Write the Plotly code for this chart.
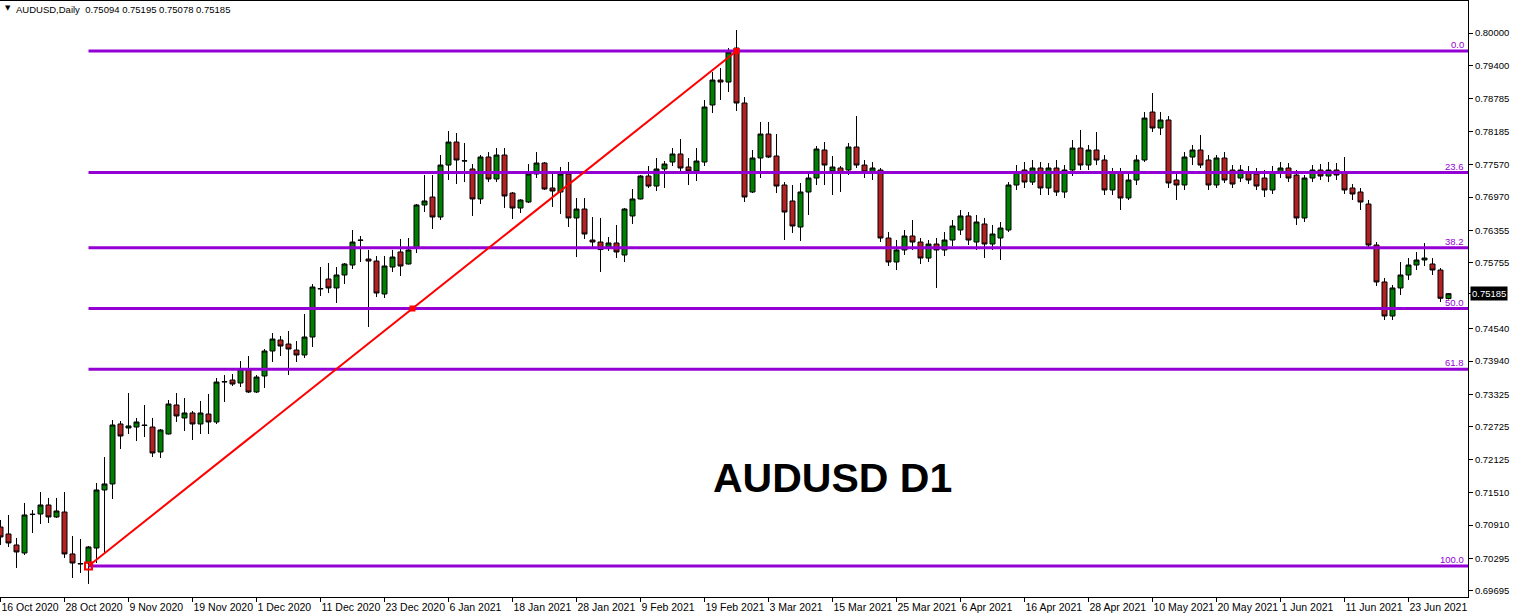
import plotly.graph_objects as go

# ---------------- data ----------------
symbol_title = "AUDUSD,Daily  0.75094 0.75195 0.75078 0.75185"
chart_label = "AUDUSD D1"

date_labels = ["16 Oct 2020", "28 Oct 2020", "9 Nov 2020", "19 Nov 2020", "1 Dec 2020",
               "11 Dec 2020", "23 Dec 2020", "6 Jan 2021", "18 Jan 2021", "28 Jan 2021",
               "9 Feb 2021", "19 Feb 2021", "3 Mar 2021", "15 Mar 2021", "25 Mar 2021",
               "6 Apr 2021", "16 Apr 2021", "28 Apr 2021", "10 May 2021", "20 May 2021",
               "1 Jun 2021", "11 Jun 2021", "23 Jun 2021"]
date_label_bars = [0, 8, 16, 24, 32, 40, 48, 56, 64, 72, 80, 88, 96, 104, 112,
                   120, 128, 136, 144, 152, 160, 168, 176]

price_ticks = [0.80000, 0.79400, 0.78785, 0.78185, 0.77570, 0.76970, 0.76355, 0.75755,
               0.74540, 0.73940, 0.73325, 0.72725, 0.72125, 0.71510, 0.70910, 0.70295, 0.69695]
last_price = 0.75185

# OHLC per daily bar
ohlc = [
    (0.70875, 0.71005, 0.70543, 0.70691), (0.70746, 0.71097, 0.70506, 0.70580),
    (0.70543, 0.70672, 0.70118, 0.70414), (0.70395, 0.71319, 0.70358, 0.71097),
    (0.71105, 0.71189, 0.70764, 0.71110), (0.71115, 0.71522, 0.70931, 0.71282),
    (0.71282, 0.71411, 0.70949, 0.71060), (0.71060, 0.71411, 0.71042, 0.71171),
    (0.71152, 0.71522, 0.70303, 0.70377), (0.70377, 0.70709, 0.69933, 0.70210),
    (0.70191, 0.70654, 0.70026, 0.70200), (0.70210, 0.70524, 0.69823, 0.70506),
    (0.70487, 0.71688, 0.70210, 0.71559), (0.71559, 0.72168, 0.70395, 0.71670),
    (0.71670, 0.72852, 0.71392, 0.72759), (0.72778, 0.72833, 0.72316, 0.72556),
    (0.72704, 0.73350, 0.72593, 0.72741), (0.72722, 0.72889, 0.72463, 0.72815),
    (0.72759, 0.73129, 0.72537, 0.72750), (0.72722, 0.72889, 0.72168, 0.72242),
    (0.72261, 0.72685, 0.72150, 0.72667), (0.72593, 0.73221, 0.72585, 0.73147),
    (0.73129, 0.73350, 0.72815, 0.72926), (0.72889, 0.73258, 0.72648, 0.72981),
    (0.72981, 0.73018, 0.72482, 0.72778), (0.72778, 0.73203, 0.72593, 0.72981),
    (0.72962, 0.73332, 0.72593, 0.72815), (0.72815, 0.73627, 0.72778, 0.73553),
    (0.73553, 0.73682, 0.73184, 0.73560), (0.73590, 0.73701, 0.73479, 0.73516),
    (0.73535, 0.73941, 0.73461, 0.73794), (0.73775, 0.74034, 0.73350, 0.73369),
    (0.73369, 0.73682, 0.73350, 0.73645), (0.73664, 0.74163, 0.73442, 0.74126),
    (0.74126, 0.74458, 0.73923, 0.74347), (0.74329, 0.74403, 0.74034, 0.74218),
    (0.74255, 0.74495, 0.73682, 0.74163), (0.74144, 0.74310, 0.73923, 0.74052),
    (0.74052, 0.74809, 0.73997, 0.74384), (0.74384, 0.75363, 0.74200, 0.75308),
    (0.75271, 0.75677, 0.75142, 0.75280), (0.75456, 0.75751, 0.75197, 0.75290),
    (0.75290, 0.75677, 0.75013, 0.75530), (0.75530, 0.75751, 0.75363, 0.75733),
    (0.75714, 0.76361, 0.75640, 0.76139), (0.76176, 0.76250, 0.75770, 0.76170),
    (0.75825, 0.75992, 0.74569, 0.75788), (0.75788, 0.75880, 0.75123, 0.75197),
    (0.75179, 0.75880, 0.75105, 0.75696), (0.75677, 0.75992, 0.75585, 0.75862),
    (0.75955, 0.76195, 0.75511, 0.75696), (0.75733, 0.76213, 0.75725, 0.75992),
    (0.76029, 0.76841, 0.75936, 0.76823), (0.76823, 0.77377, 0.76693, 0.76897),
    (0.76970, 0.77377, 0.76380, 0.76601), (0.76601, 0.77746, 0.76546, 0.77561),
    (0.77561, 0.78189, 0.77284, 0.77986), (0.77986, 0.78152, 0.77210, 0.77654),
    (0.77635, 0.77968, 0.77247, 0.77640), (0.77488, 0.77580, 0.76620, 0.76934),
    (0.76934, 0.77746, 0.76841, 0.77709), (0.77709, 0.77801, 0.77247, 0.77303),
    (0.77303, 0.77875, 0.77247, 0.77746), (0.77746, 0.77875, 0.76767, 0.76989),
    (0.77044, 0.77063, 0.76564, 0.76767), (0.76767, 0.76930, 0.76675, 0.76915),
    (0.76878, 0.77580, 0.76860, 0.77396), (0.77396, 0.77801, 0.77321, 0.77598),
    (0.77598, 0.77617, 0.77100, 0.77118), (0.77137, 0.77451, 0.76786, 0.77081),
    (0.77063, 0.77525, 0.76657, 0.77396), (0.77396, 0.77617, 0.76416, 0.76583),
    (0.76583, 0.76952, 0.75862, 0.76749), (0.76749, 0.76952, 0.76195, 0.76287),
    (0.76176, 0.76601, 0.76047, 0.76139), (0.76139, 0.76583, 0.75585, 0.76000),
    (0.76047, 0.76232, 0.75973, 0.76121), (0.76121, 0.76454, 0.75843, 0.75955),
    (0.75899, 0.76767, 0.75770, 0.76749), (0.76620, 0.77118, 0.76472, 0.76934),
    (0.76934, 0.77377, 0.76925, 0.77358), (0.77358, 0.77543, 0.77137, 0.77173),
    (0.77173, 0.77691, 0.77081, 0.77488), (0.77488, 0.77635, 0.77137, 0.77580),
    (0.77617, 0.77875, 0.77543, 0.77765), (0.77765, 0.78042, 0.77432, 0.77506),
    (0.77525, 0.77691, 0.77192, 0.77451), (0.77451, 0.77875, 0.77266, 0.77635),
    (0.77617, 0.78762, 0.77543, 0.78633), (0.78670, 0.79279, 0.78522, 0.79131),
    (0.79131, 0.79353, 0.78762, 0.79094), (0.79094, 0.79722, 0.78910, 0.79649),
    (0.79722, 0.80055, 0.78559, 0.78707), (0.78707, 0.78817, 0.76878, 0.76970),
    (0.77063, 0.77839, 0.77044, 0.77691), (0.77691, 0.78356, 0.77321, 0.78134),
    (0.78134, 0.78356, 0.77691, 0.77709), (0.77728, 0.78134, 0.77044, 0.77173),
    (0.77192, 0.77247, 0.76176, 0.76693), (0.76897, 0.77192, 0.76306, 0.76435),
    (0.76416, 0.77229, 0.76158, 0.77063), (0.77063, 0.77396, 0.76638, 0.77321),
    (0.77321, 0.77912, 0.77192, 0.77857), (0.77839, 0.77986, 0.77192, 0.77561),
    (0.77451, 0.77728, 0.77007, 0.77525), (0.77506, 0.77543, 0.77063, 0.77414),
    (0.77469, 0.77968, 0.77377, 0.77894), (0.77894, 0.78466, 0.77506, 0.77561),
    (0.77561, 0.77654, 0.77321, 0.77432), (0.77432, 0.77617, 0.77284, 0.77506),
    (0.77469, 0.77506, 0.76139, 0.76213), (0.76213, 0.76324, 0.75696, 0.75770),
    (0.75770, 0.76176, 0.75622, 0.75992), (0.75992, 0.76361, 0.75899, 0.76250),
    (0.76250, 0.76546, 0.75992, 0.76139), (0.76139, 0.76213, 0.75733, 0.75843),
    (0.75843, 0.76176, 0.75770, 0.76102), (0.76102, 0.76213, 0.75290, 0.75992),
    (0.75992, 0.76324, 0.75880, 0.76176), (0.76176, 0.76546, 0.76065, 0.76435),
    (0.76361, 0.76730, 0.76269, 0.76620), (0.76620, 0.76693, 0.76084, 0.76176),
    (0.76139, 0.76638, 0.75992, 0.76509), (0.76472, 0.76583, 0.75843, 0.76102),
    (0.76102, 0.76454, 0.75992, 0.76287), (0.76213, 0.76509, 0.75807, 0.76398),
    (0.76361, 0.77247, 0.76324, 0.77192), (0.77192, 0.77561, 0.77100, 0.77432),
    (0.77469, 0.77617, 0.77137, 0.77247), (0.77247, 0.77654, 0.77192, 0.77506),
    (0.77506, 0.77617, 0.77007, 0.77137), (0.77137, 0.77598, 0.77007, 0.77506),
    (0.77506, 0.77654, 0.76989, 0.77063), (0.77063, 0.77561, 0.76952, 0.77469),
    (0.77469, 0.78023, 0.77358, 0.77875), (0.77875, 0.78208, 0.77469, 0.77561),
    (0.77561, 0.77931, 0.77469, 0.77839), (0.77839, 0.78171, 0.77561, 0.77654),
    (0.77654, 0.77746, 0.77007, 0.77100), (0.77100, 0.77506, 0.77007, 0.77432),
    (0.77432, 0.77506, 0.76730, 0.76952), (0.76952, 0.77432, 0.76915, 0.77284),
    (0.77284, 0.77746, 0.77192, 0.77654), (0.77654, 0.78540, 0.77617, 0.78429),
    (0.78540, 0.78891, 0.78171, 0.78245), (0.78245, 0.78540, 0.78115, 0.78393),
    (0.78393, 0.78466, 0.77137, 0.77229), (0.77284, 0.77432, 0.76915, 0.77192),
    (0.77192, 0.77801, 0.77100, 0.77709), (0.77709, 0.77931, 0.77561, 0.77839),
    (0.77839, 0.78115, 0.77506, 0.77561), (0.77654, 0.77746, 0.77100, 0.77192),
    (0.77192, 0.77746, 0.77137, 0.77691), (0.77691, 0.77801, 0.77229, 0.77284),
    (0.77469, 0.77561, 0.77137, 0.77210), (0.77321, 0.77561, 0.77247, 0.77469),
    (0.77432, 0.77543, 0.77210, 0.77284), (0.77396, 0.77506, 0.77100, 0.77173),
    (0.77321, 0.77469, 0.76970, 0.77100), (0.77100, 0.77543, 0.77026, 0.77432),
    (0.77432, 0.77617, 0.77321, 0.77506), (0.77506, 0.77598, 0.77247, 0.77321),
    (0.77377, 0.77469, 0.76454, 0.76583), (0.76583, 0.77377, 0.76509, 0.77321),
    (0.77321, 0.77561, 0.77247, 0.77469), (0.77469, 0.77580, 0.77284, 0.77358),
    (0.77358, 0.77617, 0.77247, 0.77469), (0.77469, 0.77598, 0.77284, 0.77377),
    (0.77432, 0.77709, 0.77026, 0.77100), (0.77137, 0.77210, 0.76915, 0.77026),
    (0.77063, 0.77137, 0.76730, 0.76878), (0.76841, 0.76915, 0.76029, 0.76084),
    (0.76084, 0.76139, 0.75327, 0.75401), (0.75401, 0.75475, 0.74698, 0.74772),
    (0.74772, 0.75345, 0.74698, 0.75290), (0.75290, 0.75770, 0.75160, 0.75530),
    (0.75530, 0.75843, 0.75438, 0.75714), (0.75714, 0.75955, 0.75622, 0.75807),
    (0.75807, 0.76121, 0.75696, 0.75843), (0.75733, 0.75843, 0.75530, 0.75622),
    (0.75622, 0.75659, 0.75031, 0.75100), (0.75094, 0.75195, 0.75078, 0.75185),
]
opens = [r[0] for r in ohlc]
highs = [r[1] for r in ohlc]
lows = [r[2] for r in ohlc]
closes = [r[3] for r in ohlc]
bars = list(range(len(ohlc)))

# Fibonacci retracement anchors (bar index, price)
fib_start_bar, fib_start_price = 11, 0.70155
fib_end_bar, fib_end_price = 92, 0.79667
fib_levels = [0.0, 23.6, 38.2, 50.0, 61.8, 100.0]

# ---------------- styling ----------------
FIB_COLOR = "#9400D3"
FONT = "Liberation Sans"
X_RANGE = [-0.0625, 183.4375]
Y_RANGE = [0.69582, 0.80591]

fig = go.Figure()

fig.add_trace(go.Candlestick(
    x=bars, open=opens, high=highs, low=lows, close=closes,
    increasing=dict(line=dict(color="black", width=1), fillcolor="#008000"),
    decreasing=dict(line=dict(color="black", width=1), fillcolor="#B22222"),
    whiskerwidth=0, showlegend=False, hoverinfo="skip",
))

span = fib_end_price - fib_start_price
annotations = []
for lvl in fib_levels:
    p = fib_end_price - span * lvl / 100.0
    fig.add_trace(go.Scatter(
        x=[fib_start_bar, X_RANGE[1] + 1], y=[p, p], mode="lines",
        line=dict(color=FIB_COLOR, width=3), showlegend=False, hoverinfo="skip"))
    annotations.append(dict(
        xref="paper", yref="y", x=1, y=p, xanchor="right", yanchor="bottom",
        xshift=-2, yshift=-1, text=f"{lvl:.1f}", showarrow=False,
        font=dict(family=FONT, size=9.5, color=FIB_COLOR)))

# trend line of the fibo
fig.add_trace(go.Scatter(
    x=[fib_start_bar, fib_end_bar], y=[fib_start_price, fib_end_price], mode="lines",
    line=dict(color="#FF0000", width=2), showlegend=False, hoverinfo="skip"))
mid_bar = (fib_start_bar + fib_end_bar) / 2
mid_price = fib_end_price - span * 0.5
fig.add_trace(go.Scatter(
    x=[fib_start_bar], y=[fib_start_price], mode="markers",
    marker=dict(symbol="square-open", size=7, color="#FF0000", line=dict(width=2)),
    showlegend=False, hoverinfo="skip"))
fig.add_trace(go.Scatter(
    x=[mid_bar, fib_end_bar], y=[mid_price, fib_end_price], mode="markers",
    marker=dict(symbol="square", size=6, color="#FF0000"),
    showlegend=False, hoverinfo="skip"))

# current price label
annotations.append(dict(
    xref="paper", yref="y", x=1, y=last_price, xanchor="left", yanchor="middle",
    xshift=2, text=f"{last_price:.5f}", showarrow=False, bgcolor="black", borderpad=1,
    font=dict(family=FONT, size=9.5, color="white")))

# top-left symbol caption
annotations.append(dict(
    xref="paper", yref="paper", x=0, y=1, xanchor="left", yanchor="top",
    xshift=3, yshift=-1, text="▼", showarrow=False,
    font=dict(family="DejaVu Sans", size=7, color="black")))
annotations.append(dict(
    xref="paper", yref="paper", x=0, y=1, xanchor="left", yanchor="top",
    xshift=14, yshift=-1, text=symbol_title, showarrow=False,
    font=dict(family=FONT, size=9.5, color="black")))

# big chart label
annotations.append(dict(
    xref="paper", yref="paper", x=0.5674, y=0.1997, xanchor="center", yanchor="middle",
    text=f"<b>{chart_label}</b>", showarrow=False,
    font=dict(family=FONT, size=41, color="black")))

fig.update_layout(
    width=1513, height=615,
    margin=dict(l=0, r=45, t=1, b=18, autoexpand=False),
    paper_bgcolor="white", plot_bgcolor="white",
    boxgap=0.375, boxgroupgap=0,
    annotations=annotations,
    xaxis=dict(
        range=X_RANGE, showgrid=False, zeroline=False, automargin=False,
        showline=True, mirror=True, linecolor="black", linewidth=1,
        tickmode="array", tickvals=date_label_bars, ticktext=date_labels,
        ticks="outside", ticklen=4, tickcolor="black", tickangle=0,
        ticklabelposition="outside right",
        tickfont=dict(family=FONT, size=10.5, color="black"),
        rangeslider=dict(visible=False), fixedrange=True,
    ),
    yaxis=dict(
        range=Y_RANGE, side="right", showgrid=False, zeroline=False, automargin=False,
        showline=True, linecolor="black", linewidth=1,
        tickmode="array", tickvals=price_ticks + [last_price],
        ticktext=[f"{v:.5f}" for v in price_ticks] + [""],
        ticks="outside", ticklen=4, tickcolor="black",
        tickfont=dict(family=FONT, size=9.5, color="black"),
        fixedrange=True,
    ),
)

fig.write_html("out.html", config={"displayModeBar": False},
               post_script="document.body.style.margin='0';document.body.style.padding='0';")
